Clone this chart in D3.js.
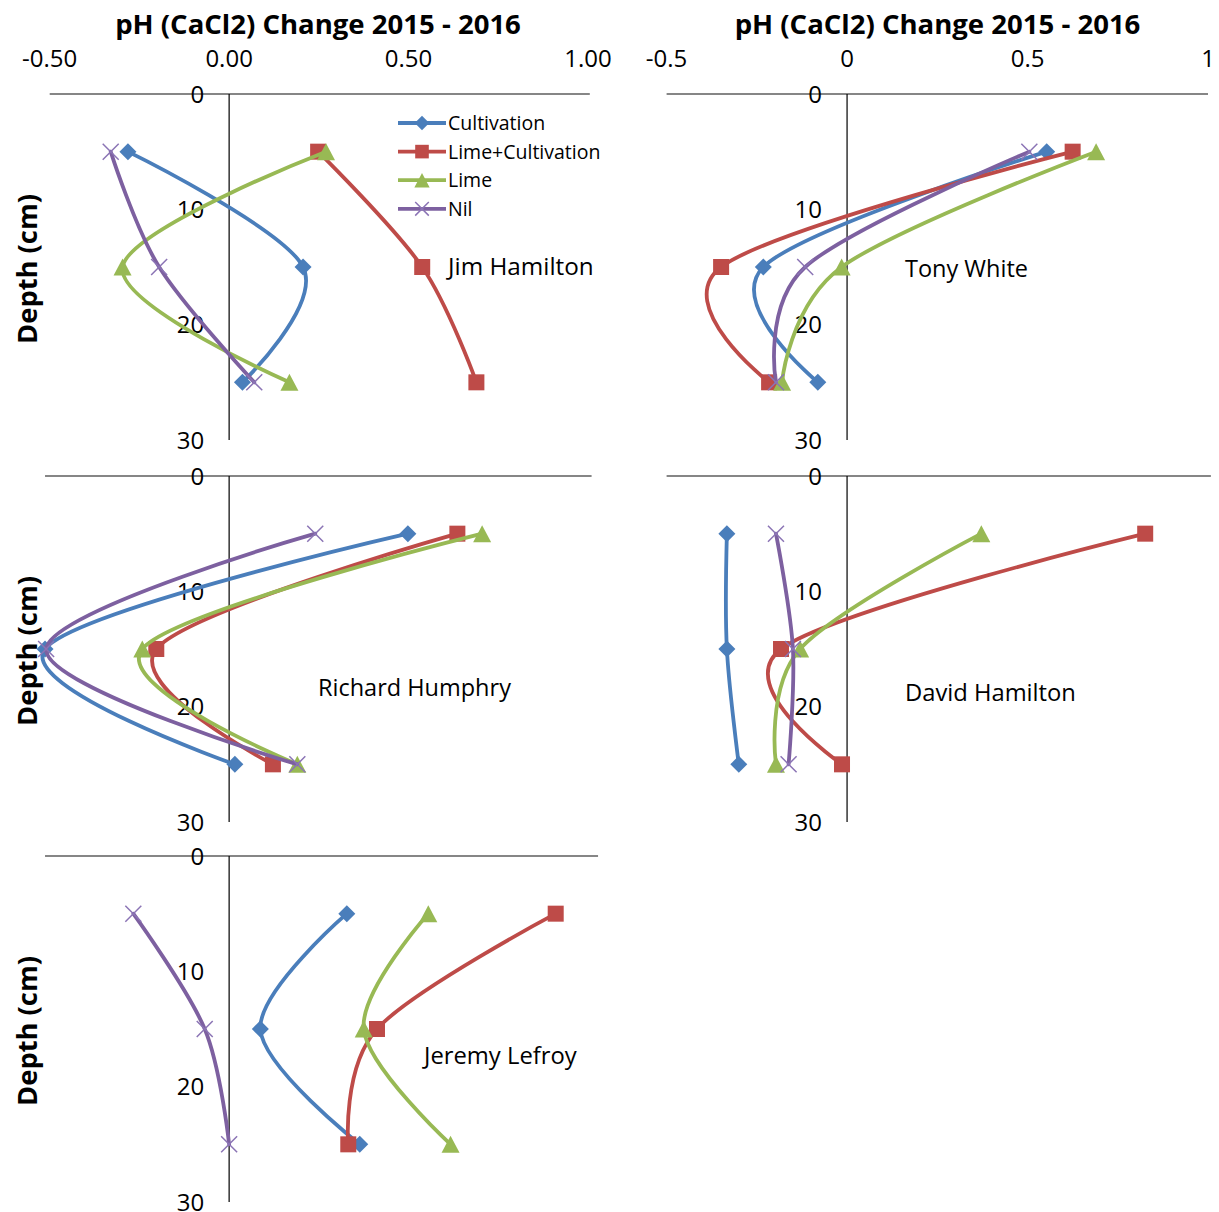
<!DOCTYPE html>
<html><head><meta charset="utf-8">
<script src="https://cdn.jsdelivr.net/npm/d3@7"></script>
<style>body{margin:0;background:#fff} svg{display:block}</style>
</head><body><svg id="chart" width="1219" height="1212"></svg>
<script>
// ---------- DATA ----------
const depths = [5, 15, 25];
const seriesNames = ["Cultivation", "Lime+Cultivation", "Lime", "Nil"];
const siteNames = ["Jim Hamilton", "Tony White", "Richard Humphry", "David Hamilton", "Jeremy Lefroy"];
// one row per site (same order as siteNames), values at depths 5, 15, 25 cm
const cultivation     = [[-0.282, 0.206, 0.037], [0.553, -0.232, -0.081], [0.498, -0.513, 0.016], [-0.333, -0.333, -0.300], [0.328, 0.087, 0.364]];
const limeCultivation = [[0.248, 0.538, 0.689], [0.625, -0.349, -0.216], [0.636, -0.203, 0.122], [0.826, -0.183, -0.014], [0.910, 0.412, 0.332]];
const lime            = [[0.270, -0.297, 0.168], [0.690, -0.015, -0.180], [0.705, -0.242, 0.190], [0.372, -0.130, -0.197], [0.555, 0.375, 0.617]];
const nil             = [[-0.330, -0.195, 0.070], [0.505, -0.116, -0.197], [0.240, -0.510, 0.190], [-0.197, -0.150, -0.162], [-0.267, -0.068, 0.000]];
const xTickValues = [-0.5, 0, 0.5, 1];
const xTickLabelsLeft = ["-0.50", "0.00", "0.50", "1.00"];
const xTickLabelsRight = ["-0.5", "0", "0.5", "1"];
const depthTicks = [0, 10, 20, 30];
const titleText = "pH (CaCl2) Change 2015 - 2016";
const yLabelText = "Depth (cm)";

// ---------- LAYOUT / STYLE ----------
const seriesData = [cultivation, limeCultivation, lime, nil];
const colors = ["#4A7EBB", "#BE4B48", "#98B954", "#7D60A0"];
const shapes = ["diamond", "square", "triangle", "x"];
const FONT = "'Open Sans', 'Noto Sans', sans-serif";
const panels = [
  {range: [49.7, 588], top: 94, line: [-0.5, 1.005], ticks: xTickLabelsLeft, titleX: 318, yLabel: true, legend: true, site: [448, 266, 148]},
  {range: [666.6, 1208], top: 94, line: [-0.5, 1.0], ticks: xTickLabelsRight, titleX: 937.5, yLabel: false, site: [905, 269, 123]},
  {range: [49.7, 588], top: 476, line: [-0.513, 1.01], yLabel: true, site: [318, 688, 194]},
  {range: [666.6, 1208], top: 476, line: [-0.5, 1.008], yLabel: false, site: [905, 692, 171]},
  {range: [49.7, 588], top: 856, line: [-0.513, 1.028], yLabel: true, site: [424, 1055, 156]}
];
const PLOT_H = 346;

const svg = d3.select("#chart");

function fit(sel, w) {
  const bw = sel.node().getBBox().width;
  const fs = parseFloat(sel.attr("font-size"));
  sel.attr("font-size", fs * w / bw);
  return sel;
}

function drawMarker(g, type, x, y, color, k = 1) {
  if (type === "diamond") {
    const s = 8.5 * k;
    g.append("path").attr("d", `M${x},${y - s}L${x + s},${y}L${x},${y + s}L${x - s},${y}Z`).attr("fill", color);
  } else if (type === "square") {
    const s = 8 * k;
    g.append("rect").attr("x", x - s).attr("y", y - s).attr("width", 2 * s).attr("height", 2 * s).attr("fill", color);
  } else if (type === "triangle") {
    const w = 9 * k, h = 8.5 * k;
    g.append("path").attr("d", `M${x},${y - h}L${x + w},${y + h}L${x - w},${y + h}Z`).attr("fill", color);
  } else {
    const s = 8 * k;
    g.append("path").attr("d", `M${x - s},${y - s}L${x + s},${y + s}M${x - s},${y + s}L${x + s},${y - s}`)
      .attr("stroke", "#8B74B5").attr("stroke-width", 1.5).attr("fill", "none");
  }
}

panels.forEach((p, pi) => {
  const x = d3.scaleLinear().domain([-0.5, 1]).range(p.range);
  const y = d3.scaleLinear().domain([0, 30]).range([p.top, p.top + PLOT_H]);
  const g = svg.append("g");
  const x0 = x(0);

  // title + x tick labels
  if (p.ticks) {
    fit(g.append("text").attr("x", p.titleX).attr("y", 34).attr("text-anchor", "middle")
      .attr("font-family", FONT).attr("font-weight", "bold").attr("font-size", 24).attr("fill", "#000")
      .text(titleText), 406);
    g.selectAll(".xt").data(xTickValues).enter().append("text")
      .attr("x", d => x(d)).attr("y", 58.5).attr("dy", "0.36em").attr("text-anchor", "middle")
      .attr("font-family", FONT).attr("font-size", 24).attr("fill", "#000")
      .text((d, i) => p.ticks[i]);
  }

  // axes
  g.append("line").attr("x1", x(p.line[0])).attr("x2", x(p.line[1])).attr("y1", y(0)).attr("y2", y(0))
    .attr("stroke", "#868686").attr("stroke-width", 2);
  g.append("line").attr("x1", x0).attr("x2", x0).attr("y1", y(0)).attr("y2", y(30))
    .attr("stroke", "#000").attr("stroke-width", 1.2);

  // depth tick labels
  g.selectAll(".yt").data(depthTicks).enter().append("text")
    .attr("x", x0 - 25).attr("y", d => y(d)).attr("dy", "0.36em").attr("text-anchor", "end")
    .attr("font-family", FONT).attr("font-size", 24).attr("fill", "#000").text(d => d);

  // y-axis title
  if (p.yLabel) {
    fit(g.append("text").attr("transform", `translate(37,${p.top + 175}) rotate(-90)`).attr("text-anchor", "middle")
      .attr("font-family", FONT).attr("font-weight", "bold").attr("font-size", 22).attr("fill", "#000")
      .text(yLabelText), 150);
  }

  // site label
  fit(g.append("text").attr("x", p.site[0]).attr("y", p.site[1]).attr("dy", "0.36em")
    .attr("font-family", FONT).attr("font-size", 22).attr("fill", "#000").text(siteNames[pi]), p.site[2]);

  // series
  const lineGen = d3.line().x(d => x(d[0])).y(d => y(d[1])).curve(d3.curveCardinal.tension(0));
  seriesData.forEach((sd, si) => {
    const pts = sd[pi].map((v, i) => [v, depths[i]]);
    const sg = g.append("g");
    sg.append("path").attr("d", lineGen(pts)).attr("fill", "none").attr("stroke", colors[si])
      .attr("stroke-width", 3.8).attr("stroke-linecap", "round").attr("stroke-linejoin", "round");
    pts.forEach(pt => drawMarker(sg, shapes[si], x(pt[0]), y(pt[1]), colors[si]));
  });

  // legend
  if (p.legend) {
    const lg = g.append("g");
    seriesNames.forEach((name, i) => {
      const ly = 123 + i * 28.6;
      lg.append("line").attr("x1", 398).attr("x2", 446).attr("y1", ly).attr("y2", ly)
        .attr("stroke", colors[i]).attr("stroke-width", 3.8);
      drawMarker(lg, shapes[i], 422, ly, colors[i], 0.85);
      lg.append("text").attr("x", 448).attr("y", ly).attr("dy", "0.36em")
        .attr("font-family", FONT).attr("font-size", 19.5).attr("fill", "#000").text(name);
    });
  }
});
</script></body></html>
